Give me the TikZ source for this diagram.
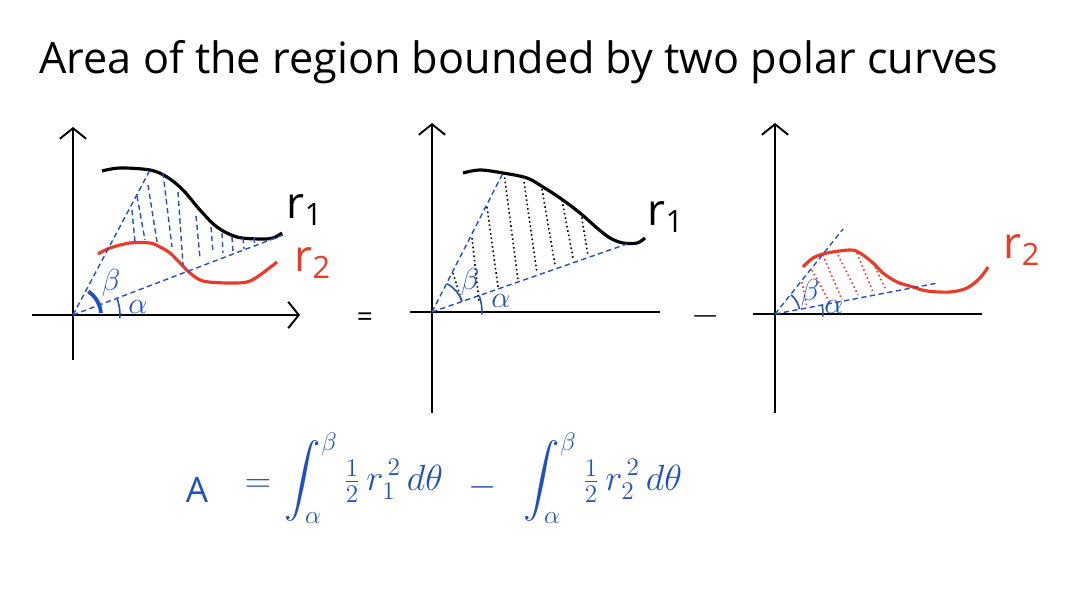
\documentclass[tikz,border=0pt]{standalone}
\usepackage{amsmath}
\usepackage{xcolor}
\usepackage{fontspec}
\setmainfont{Open Sans}
\usepackage{tikz}
\usetikzlibrary{arrows.meta,positioning}
\definecolor{penblue}{RGB}{34,80,190}
\definecolor{penred}{RGB}{234,58,40}

\begin{document}
\begin{tikzpicture}[
	x=0.02cm, y=-0.02cm,
	axis/.style={line width=1.1pt},
	tip/.style={-{Straight Barb[length=6pt,width=15pt,line width=1.1pt]}},
	curve/.style={line width=1.8pt, smooth, tension=0.55},
	ray/.style={penblue, line width=0.8pt, dash pattern=on 3pt off 2pt},
	hatchdash/.style={penblue, line width=0.8pt, dash pattern=on 3pt off 2pt},
	hatchdot/.style={line width=0.9pt, dash pattern=on 0.9pt off 1.6pt},
	anglemark/.style={penblue, line width=0.9pt},
	rlabel/.style={font=\fontsize{25}{30}\selectfont},
	greek/.style={penblue, inner sep=0pt, font=\fontsize{19}{22}\selectfont},
	eqpart/.style={penblue, inner sep=0pt, font=\fontsize{20}{24}\selectfont}
  ]

  \useasboundingbox (0,0) rectangle (1084,598);

  \node (title) at (519,62) [font=\fontsize{24.6}{30}\selectfont] {Area of the region bounded by two polar curves};

  % left picture
  \coordinate (o1) at (73,315);
  \coordinate (b1) at (150,170);
  \coordinate (a1) at (283,235);
  \draw[axis,tip] (32,315) -- (300,315);
  \draw[axis,tip] (73,360) -- (73,127);
  \draw[curve] plot coordinates {(102,171) (120,168) (150,170) (167,177) (183,190) (200,210) (217,227) (237,237) (260,239) (273,238) (282,233)};
  \draw[curve,penred] plot coordinates {(98,254) (110,248) (130,243) (150,243) (160,247) (170,253) (180,263) (190,273) (203,281) (227,283) (247,282) (260,275) (277,262)};
  \draw[ray] (o1) -- (b1);
  \draw[ray] (o1) -- (a1);
  \foreach \xa/\ya/\xb/\yb in {132/210/135/242, 137/196/145/240, 148/185/157/242, 163/173/172/247, 178/192/183/265, 196/216/200/258, 211/227/213/253, 222/233/223/253, 232/237/233/252, 243/238/244/249, 254/238/255/247}
    \draw[hatchdash] (\xa,\ya) -- (\xb,\yb);
  \draw[anglemark,line width=2.2pt] (o1) ++(-4:28) arc (-4:-57:28);
  \draw[anglemark] (o1) ++(4:47) arc (4:-20:47);
  \node[greek] (beta1) at (111,283) {$\beta$};
  \node[greek] (alpha1) at (138,307) {$\alpha$};
  \node[rlabel] (r1a) at (305,210) {r\textsubscript{1}};
  \node[rlabel,penred] (r2a) at (313,263) {r\textsubscript{2}};

  \node (eqsign) at (365,320) [font=\fontsize{16}{18}\selectfont] {=};

  % middle picture
  \coordinate (o2) at (432,312);
  \coordinate (b2) at (503,173);
  \coordinate (a2) at (627,244);
  \draw[axis] (410,312) -- (660,312);
  \draw[axis,tip] (432,413) -- (432,123);
  \draw[curve] plot coordinates {(463,173) (480,170) (503,173) (527,178) (543,187) (560,198) (580,213) (597,228) (610,238) (623,243) (637,243) (645,238)};
  \draw[ray] (o2) -- (b2);
  \draw[ray] (o2) -- (a2);
  \foreach \xa/\ya/\xb/\yb in {453/273/462/302, 472/238/479/301, 487/207/498/287, 504/173/518/280, 524/182/537/273, 542/189/555/265, 562/200/573/258, 581/213/588/256}
    \draw[hatchdot] (\xa,\ya) -- (\xb,\yb);
  \draw[anglemark] (o2) ++(-20:32) arc (-20:-62:32);
  \draw[anglemark] (o2) ++(3:50) arc (3:-19:50);
  \node[greek] (beta2) at (470,282) {$\beta$};
  \node[greek] (alpha2) at (501,301) {$\alpha$};
  \node[rlabel] (r1b) at (666,217) {r\textsubscript{1}};

  \node (minus) at (706,316) [font=\fontsize{20}{22}\selectfont] {$-$};

  % right picture
  \coordinate (o3) at (775,314);
  \coordinate (b3) at (843,229);
  \coordinate (a3) at (938,283);
  \draw[axis] (753,314) -- (982,314);
  \draw[axis,tip] (775,413) -- (775,123);
  \draw[curve,penred] plot coordinates {(803,267) (813,258) (827,253) (850,250) (860,253) (873,263) (883,273) (897,282) (913,287) (927,291) (950,292) (967,288) (980,278) (988,267)};
  \draw[ray] (o3) -- (b3);
  \draw[ray] (o3) -- (a3);
  \foreach \xa/\ya/\xb/\yb in {802/282/807/308, 812/270/830/303, 823/255/842/300, 838/255/858/295, 857/253/873/292, 875/267/885/288}
    \draw[hatchdot,penred] (\xa,\ya) -- (\xb,\yb);
  \draw[anglemark] (o3) ++(-11:25) arc (-11:-50:25);
  \draw[anglemark] (o3) ++(3:48) arc (3:-11:48);
  \node[greek] (beta3) at (810,293) {$\beta$};
  \node[greek] (alpha3) at (834,307) {$\alpha$};
  \node[rlabel,penred] (r2b) at (1022,250) {r\textsubscript{2}};

  % formula
  \node[eqpart] (areaA) at (197,490) {A};
  \node[eqpart] (areaeq) at (258,486) {$=$};
  \node[eqpart] (intone) at (364,478) {$\displaystyle\int_{\alpha}^{\beta}\tfrac{1}{2}\,r_1^{\,2}\,d\theta$};
  \node[eqpart] (areaminus) at (483,487) {$-$};
  \node[eqpart] (inttwo) at (603,478) {$\displaystyle\int_{\alpha}^{\beta}\tfrac{1}{2}\,r_2^{\,2}\,d\theta$};

\end{tikzpicture}
\end{document}
